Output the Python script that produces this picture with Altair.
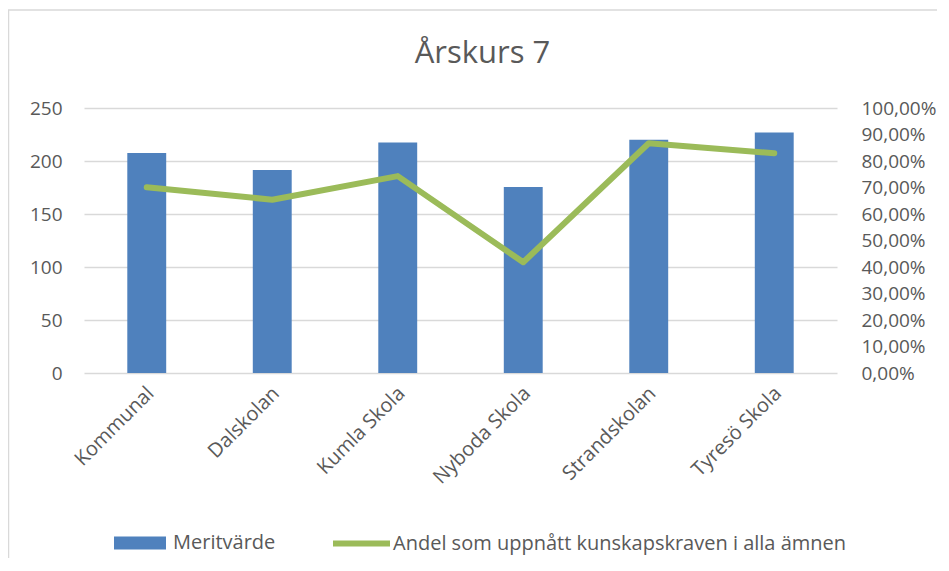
import altair as alt
import pandas as pd

skolor = ["Kommunal", "Dalskolan", "Kumla Skola", "Nyboda Skola", "Strandskolan", "Tyresö Skola"]
meritvarde = [207.5, 191.5, 217.5, 175.5, 220.0, 227.0]
andel = [0.701, 0.654, 0.743, 0.418, 0.867, 0.829]

titel = "Årskurs 7"
serie_bar = "Meritvärde"
serie_line = "Andel som uppnått kunskapskraven i alla ämnen"

left_ticks = [0, 50, 100, 150, 200, 250]
right_ticks = [0.0, 0.1, 0.2, 0.3, 0.4, 0.5, 0.6, 0.7, 0.8, 0.9, 1.0]

df = pd.DataFrame({
    "skola": skolor,
    "meritvarde": meritvarde,
    "andel": andel,
    "serie_bar": [serie_bar] * len(skolor),
    "serie_line": [serie_line] * len(skolor),
})

FONT = "Open Sans"
GREY = "#595959"
GRID = "#d9d9d9"

x_enc = alt.X(
    "skola:N",
    sort=skolor,
    scale=alt.Scale(paddingInner=0.69, paddingOuter=0.345),
    axis=alt.Axis(
        title=None, labelAngle=-45, labelAlign="right", labelBaseline="middle",
        labelPadding=17, labelOffset=4, ticks=False, domain=False, labelFontSize=20,
        labelColor=GREY, labelFont=FONT, grid=False,
    ),
)

frame = alt.Chart(pd.DataFrame({"k": [0]})).mark_rect(
    filled=False, stroke=GRID, strokeWidth=1.5
).encode(
    x=alt.value(-75.5), x2=alt.value(900), y=alt.value(-98), y2=alt.value(600)
)

title_mark = alt.Chart(pd.DataFrame({"t": [titel]})).mark_text(
    font=FONT, fontSize=31, color=GREY, align="center", baseline="alphabetic"
).encode(
    text="t:N", x=alt.value(398.5), y=alt.value(-45)
)

bars = alt.Chart(df).mark_bar(color="#4f81bd").encode(
    x=x_enc,
    y=alt.Y(
        "meritvarde:Q",
        scale=alt.Scale(domain=[0, 250], nice=False),
        axis=alt.Axis(
            title=None, values=left_ticks, grid=True, gridColor=GRID, gridWidth=1.5,
            domain=False, ticks=False, labelPadding=22, labelFontSize=19,
            labelColor=GREY, labelFont=FONT,
        ),
    ),
    fill=alt.Fill(
        "serie_bar:N",
        scale=alt.Scale(domain=[serie_bar], range=["#4f81bd"]),
        legend=alt.Legend(
            title=None, orient="none", legendX=30, legendY=409, padding=0,
            symbolType="M-1,-0.25H1V0.25H-1Z", symbolSize=2704, symbolStrokeWidth=0,
            labelOffset=7, labelFontSize=20, labelColor=GREY, labelFont=FONT, labelLimit=600,
        ),
    ),
)

line = alt.Chart(df).mark_line(strokeWidth=6, strokeCap="round", strokeJoin="round").encode(
    x=x_enc,
    y=alt.Y(
        "andel:Q",
        scale=alt.Scale(domain=[0, 1], nice=False),
        axis=alt.Axis(
            title=None, orient="right", values=right_ticks, grid=False,
            domain=False, ticks=False, labelPadding=24, labelFontSize=19,
            labelColor=GREY, labelFont=FONT,
            labelExpr="replace(format(datum.value, '.2%'), '.', ',')",
        ),
    ),
    stroke=alt.Stroke(
        "serie_line:N",
        scale=alt.Scale(domain=[serie_line], range=["#9bbb59"]),
        legend=alt.Legend(
            title=None, orient="none", legendX=246, legendY=404, padding=0,
            symbolType="stroke", symbolSize=3249, symbolStrokeWidth=6,
            labelOffset=0, labelFontSize=20, labelColor=GREY, labelFont=FONT, labelLimit=600,
        ),
    ),
)

chart = alt.layer(frame, title_mark, bars, line).resolve_scale(
    y="independent", fill="independent", stroke="independent"
).properties(
    width=753,
    height=265,
    autosize=alt.AutoSizeParams(type="none"),
    padding={"left": 76, "top": 100, "right": 100, "bottom": 185},
).configure_view(stroke=None)

chart.save("out.html", embed_options={"renderer": "svg", "actions": False})
